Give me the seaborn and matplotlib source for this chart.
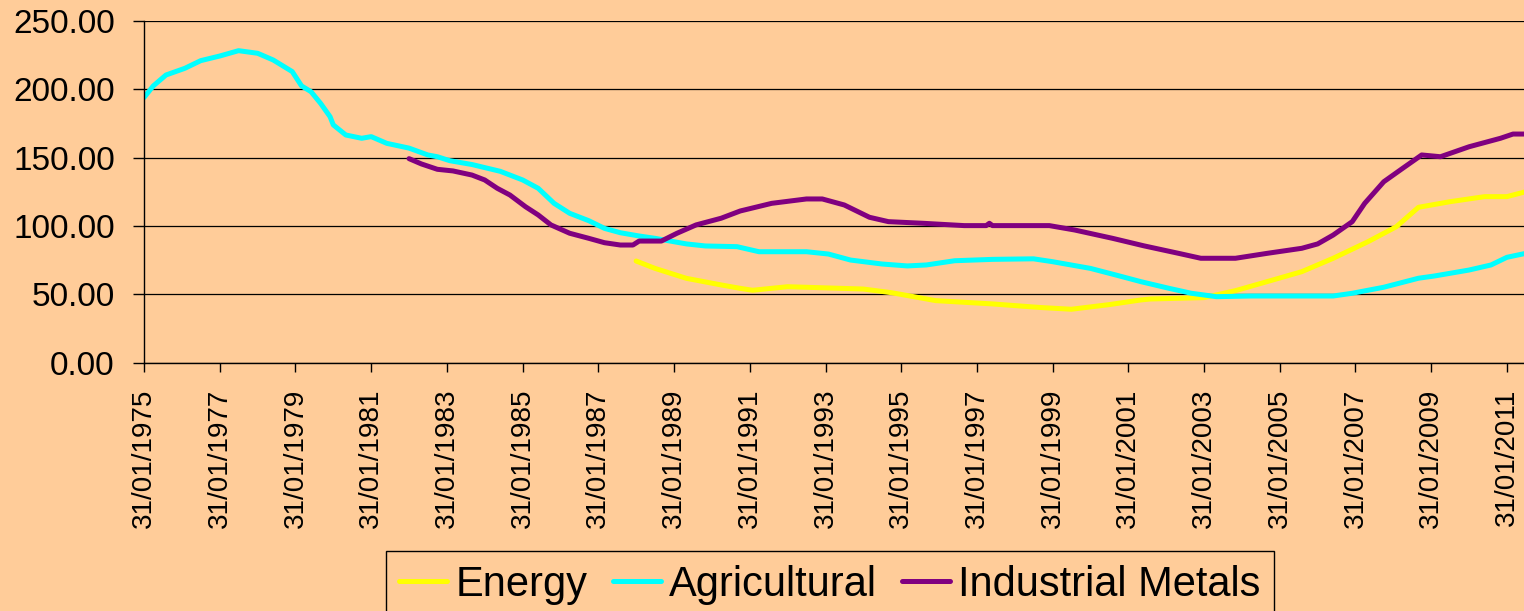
import pandas as pd
import matplotlib.pyplot as plt
import seaborn as sns

# valores (fim de mês)
energy_dates = ["1988-01", "1988-07", "1989-05", "1990-04", "1990-10", "1991-02", "1992-01",
                "1994-01", "1994-10", "1995-12", "1997-06", "1998-09", "1999-07", "2000-07",
                "2001-05", "2001-08", "2003-01", "2003-11", "2004-09", "2005-08", "2006-06",
                "2007-05", "2008-02", "2008-09", "2009-07", "2010-06", "2011-01", "2011-07"]
energy_vals = [74.4, 69.0, 61.7, 56.9, 54.4, 53.0, 55.6,
               53.9, 51.2, 45.4, 43.0, 40.4, 39.1, 42.5,
               45.9, 46.6, 47.6, 52.7, 59.3, 66.6, 76.4,
               88.5, 99.5, 113.7, 117.8, 121.5, 121.5, 125.1]

agri_dates = ["1975-01", "1975-04", "1975-08", "1976-02", "1976-07", "1977-01", "1977-07",
              "1978-01", "1978-06", "1978-12", "1979-03", "1979-06", "1979-09", "1979-12",
              "1980-01", "1980-05", "1980-10", "1981-01", "1981-06", "1982-01", "1982-07",
              "1982-10", "1983-02", "1983-09", "1984-06", "1985-01", "1985-06", "1985-11",
              "1986-04", "1986-10", "1987-03", "1987-08", "1988-02", "1988-07", "1989-01",
              "1989-05", "1989-11", "1990-09", "1991-04", "1992-07", "1993-02", "1993-09",
              "1994-07", "1995-03", "1995-09", "1996-06", "1997-06", "1998-07", "1999-01",
              "1999-04", "2000-01", "2000-09", "2001-05", "2002-02", "2002-09", "2003-05",
              "2004-04", "2006-06", "2006-12", "2007-10", "2008-09", "2009-02", "2010-01",
              "2010-08", "2011-01", "2011-07"]
agri_vals = [194.0, 202.5, 210.5, 215.4, 221.0, 224.4, 228.3,
             226.4, 221.5, 213.0, 202.5, 198.3, 189.8, 180.0,
             174.0, 166.6, 164.2, 165.4, 160.5, 157.0, 152.0,
             150.7, 147.8, 145.0, 140.0, 133.7, 127.6, 116.6,
             109.3, 103.9, 98.3, 95.1, 92.7, 91.0, 88.5,
             86.9, 85.4, 84.9, 81.2, 81.2, 79.5, 75.1,
             72.2, 70.8, 71.5, 74.6, 75.6, 76.0, 73.9,
             72.7, 69.0, 64.2, 59.3, 54.4, 50.8, 48.3,
             48.8, 48.8, 50.8, 55.2, 61.8, 63.4, 67.8,
             71.5, 77.1, 80.0]

metals_dates = ["1982-01", "1982-05", "1982-10", "1983-03", "1983-09", "1984-01", "1984-05",
                "1984-09", "1985-02", "1985-06", "1985-10", "1986-04", "1986-10", "1987-03",
                "1987-08", "1987-12", "1988-02", "1988-09", "1989-02", "1989-08", "1990-04",
                "1990-10", "1991-08", "1992-07", "1992-12", "1993-07", "1994-03", "1994-09",
                "1995-08", "1996-09", "1997-04", "1997-05", "1997-06", "1998-12", "1999-08",
                "2000-08", "2001-06", "2002-05", "2002-12", "2003-11", "2004-09", "2005-08",
                "2006-01", "2006-06", "2006-12", "2007-04", "2007-10", "2008-04", "2008-10",
                "2009-04", "2010-01", "2010-11", "2011-03", "2011-07"]
metals_vals = [149.3, 145.4, 141.5, 140.3, 137.3, 133.7, 127.6,
               122.7, 114.1, 108.1, 100.8, 94.7, 91.0, 87.8,
               86.1, 86.1, 89.0, 89.0, 94.7, 100.8, 105.7,
               111.0, 116.6, 119.8, 119.8, 115.4, 106.4, 103.2,
               102.0, 100.3, 100.3, 102.0, 100.3, 100.3, 97.1,
               91.0, 85.5, 80.0, 76.4, 76.4, 80.0, 83.7,
               86.9, 93.4, 103.2, 116.6, 132.4, 142.2, 152.0,
               150.7, 158.0, 164.2, 167.3, 167.3]

SERIES = ["Energy", "Agricultural", "Industrial Metals"]
CORES = {"Energy": "#FFFF00", "Agricultural": "#00FFFF", "Industrial Metals": "#800080"}
FUNDO = "#FFCC99"


def plotar():
    partes = []
    for nome, datas, vals in [("Energy", energy_dates, energy_vals),
                              ("Agricultural", agri_dates, agri_vals),
                              ("Industrial Metals", metals_dates, metals_vals)]:
        d = pd.to_datetime(datas) + pd.offsets.MonthEnd(0)
        partes.append(pd.DataFrame({"Data": d, "Valor": vals, "Serie": nome}))
    df = pd.concat(partes, ignore_index=True)

    sns.set_theme(style="white")
    plt.rcParams["font.family"] = ["Liberation Sans", "DejaVu Sans"]
    plt.rcParams["text.color"] = "black"

    fig = plt.figure(figsize=(15.24, 6.11), dpi=100, facecolor=FUNDO)
    ax = fig.add_axes([0.0945, 0.4064, 0.9055, 0.5592])
    ax.set_facecolor(FUNDO)

    sns.lineplot(data=df, x="Data", y="Valor", hue="Serie", hue_order=SERIES,
                 palette=CORES, linewidth=3.6, estimator=None, sort=False, ax=ax)

    ax.set_xlim(pd.Timestamp("1975-01-31"), pd.Timestamp("2011-07-15"))
    ax.set_ylim(0, 250)
    ax.set_yticks(range(0, 251, 50))
    ax.set_yticklabels([f"{v:.2f}" for v in range(0, 251, 50)])
    ticks = [pd.Timestamp(f"{a}-01-31") for a in range(1975, 2012, 2)]
    ax.set_xticks(ticks)
    ax.set_xticklabels([t.strftime("%d/%m/%Y") for t in ticks], rotation=90)
    ax.set_xlabel("")
    ax.set_ylabel("")

    ax.yaxis.grid(True, color="black", linewidth=0.9)
    ax.xaxis.grid(False)
    for lado in ["top", "right"]:
        ax.spines[lado].set_visible(False)
    for lado in ["left", "bottom"]:
        ax.spines[lado].set_color("black")
        ax.spines[lado].set_linewidth(1.0)

    ax.tick_params(axis="y", left=True, direction="out", length=8, width=1,
                   color="black", pad=13, labelsize=24, labelcolor="black")
    ax.tick_params(axis="x", bottom=True, direction="out", length=6.5, width=1,
                   color="black", pad=12, labelsize=20, labelcolor="black")

    handles, labels = ax.get_legend_handles_labels()
    ax.get_legend().remove()
    leg = fig.legend(handles, labels, loc="upper center", bbox_to_anchor=(0.5446, 0.0982),
                     ncol=3, fontsize=30, frameon=True, fancybox=False, shadow=False,
                     edgecolor="black", facecolor=FUNDO, framealpha=1,
                     borderpad=0.33, handlelength=1.15, handletextpad=0.2,
                     columnspacing=0.6, borderaxespad=0)
    leg.get_frame().set_linewidth(1.0)
    for h in leg.legend_handles:
        h.set_linewidth(3.6)
    for t in leg.get_texts():
        t.set_color("black")

    fig.savefig("out.png", dpi=100, facecolor=FUNDO)


if __name__ == "__main__":
    plotar()
